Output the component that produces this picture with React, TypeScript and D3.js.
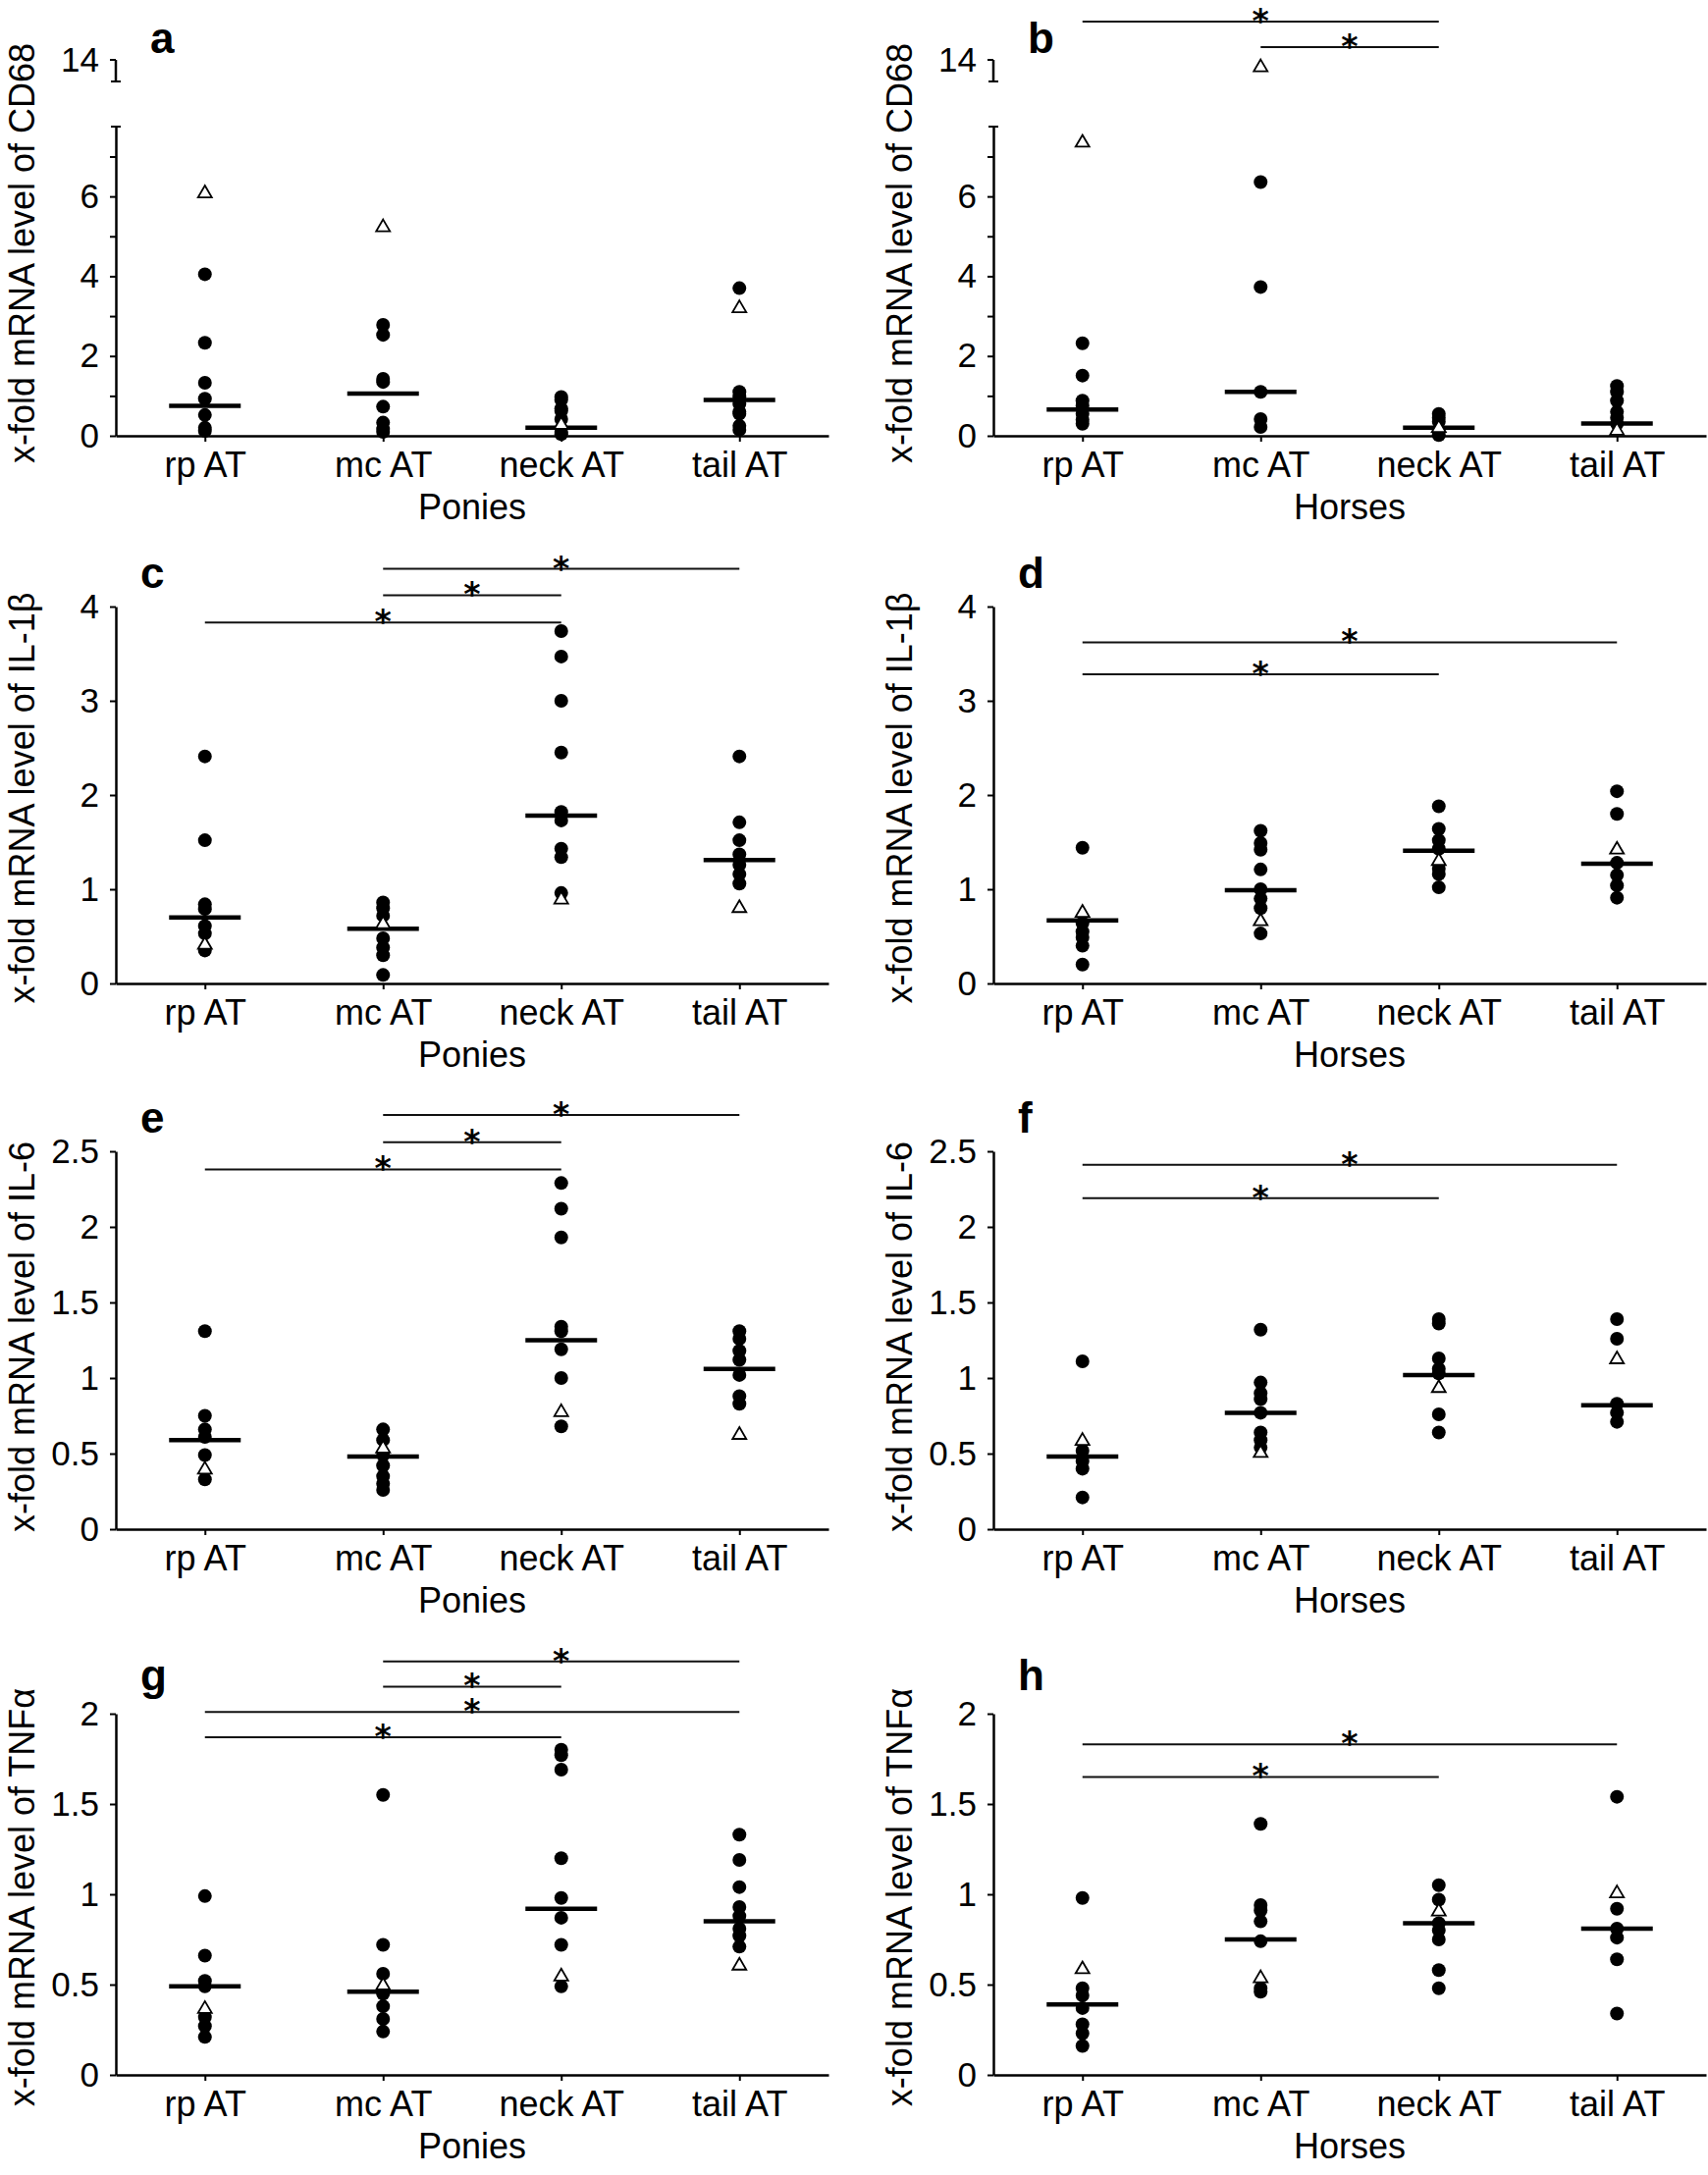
import React, { useEffect, useRef } from "react";
import * as d3 from "d3";

const FONT = "'Liberation Sans', Arial, Helvetica, sans-serif";
const STAR_FONT = "'DejaVu Sans', sans-serif";

const categories = ["rp AT", "mc AT", "neck AT", "tail AT"];

// a — CD68, ponies
const cd68PoniesDots = [
  [4.05, 2.33, 1.33, 0.93, 0.52, 0.2, 0.12],
  [2.78, 2.53, 1.43, 1.35, 0.73, 0.33, 0.17, 0.1],
  [0.97, 0.9, 0.68, 0.62, 0.42, 0.1, 0.04],
  [3.7, 1.1, 0.98, 0.8, 0.6, 0.55, 0.25, 0.15],
];
const cd68PoniesTriangles = [6.1, 5.25, 0.3, 3.22];
const cd68PoniesMedians = [0.75, 1.06, 0.2, 0.9];

// b — CD68, horses
const cd68HorsesDots = [
  [2.32, 1.51, 0.88, 0.75, 0.55, 0.4, 0.3],
  [6.36, 3.73, 1.1, 0.42, 0.22],
  [0.55, 0.45, 0.35, 0.02],
  [1.25, 1.1, 0.88, 0.6, 0.45, 0.3],
];
const cd68HorsesTriangles = [7.37, 13.7, 0.22, 0.15];
const cd68HorsesMedians = [0.66, 1.1, 0.2, 0.31];
const cd68HorsesSig = [
  { from: 0, to: 2, level: 15.77 },
  { from: 1, to: 2, level: 14.59 },
];

// c — IL-1β, ponies
const il1PoniesDots = [
  [2.41, 1.52, 0.84, 0.79, 0.61, 0.53, 0.35],
  [0.86, 0.8, 0.72, 0.48, 0.38, 0.3, 0.09],
  [3.74, 3.47, 3.0, 2.45, 1.82, 1.73, 1.43, 1.34, 0.96],
  [2.41, 1.71, 1.52, 1.37, 1.26, 1.16, 1.06],
];
const il1PoniesTriangles = [0.42, 0.64, 0.9, 0.81];
const il1PoniesMedians = [0.7, 0.58, 1.78, 1.31];
const il1PoniesSig = [
  { from: 0, to: 2, level: 3.83 },
  { from: 1, to: 2, level: 4.12 },
  { from: 1, to: 3, level: 4.4 },
];

// d — IL-1β, horses
const il1HorsesDots = [
  [1.44, 0.64, 0.55, 0.49, 0.4, 0.2],
  [1.62, 1.49, 1.42, 1.21, 1.0, 0.9, 0.8, 0.53],
  [1.88, 1.64, 1.52, 1.43, 1.22, 1.16, 1.02],
  [2.04, 1.8, 1.28, 1.15, 1.04, 0.91],
];
const il1HorsesTriangles = [0.76, 0.67, 1.31, 1.43];
const il1HorsesMedians = [0.67, 0.99, 1.41, 1.27];
const il1HorsesSig = [
  { from: 0, to: 2, level: 3.28 },
  { from: 0, to: 3, level: 3.62 },
];

// e — IL-6, ponies
const il6PoniesDots = [
  [1.31, 0.75, 0.66, 0.61, 0.49, 0.33],
  [0.66, 0.59, 0.49, 0.42, 0.35, 0.3, 0.26],
  [2.29, 2.12, 1.93, 1.34, 1.31, 1.19, 1.0, 0.68],
  [1.31, 1.26, 1.18, 1.12, 1.02, 0.88, 0.83],
];
const il6PoniesTriangles = [0.4, 0.54, 0.78, 0.63];
const il6PoniesMedians = [0.59, 0.48, 1.25, 1.06];
const il6PoniesSig = [
  { from: 0, to: 2, level: 2.38 },
  { from: 1, to: 2, level: 2.56 },
  { from: 1, to: 3, level: 2.74 },
];

// f — IL-6, horses
const il6HorsesDots = [
  [1.11, 0.52, 0.45, 0.4, 0.21],
  [1.32, 0.97, 0.9, 0.86, 0.77, 0.64, 0.59, 0.54],
  [1.39, 1.36, 1.13, 1.06, 1.03, 0.76, 0.64],
  [1.39, 1.26, 0.83, 0.77, 0.71],
];
const il6HorsesTriangles = [0.59, 0.51, 0.94, 1.13];
const il6HorsesMedians = [0.48, 0.77, 1.02, 0.82];
const il6HorsesSig = [
  { from: 0, to: 2, level: 2.19 },
  { from: 0, to: 3, level: 2.41 },
];

// g — TNFα, ponies
const tnfPoniesDots = [
  [0.99, 0.66, 0.52, 0.49, 0.32, 0.27, 0.21],
  [1.55, 0.72, 0.56, 0.45, 0.38, 0.31, 0.24],
  [1.8, 1.77, 1.69, 1.2, 0.98, 0.87, 0.72, 0.49],
  [1.33, 1.19, 1.04, 0.93, 0.88, 0.81, 0.77, 0.71],
];
const tnfPoniesTriangles = [0.37, 0.5, 0.55, 0.61];
const tnfPoniesMedians = [0.49, 0.46, 0.92, 0.85];
const tnfPoniesSig = [
  { from: 0, to: 2, level: 1.87 },
  { from: 0, to: 3, level: 2.01 },
  { from: 1, to: 2, level: 2.15 },
  { from: 1, to: 3, level: 2.29 },
];

// h — TNFα, horses
const tnfHorsesDots = [
  [0.98, 0.48, 0.44, 0.37, 0.28, 0.23, 0.16],
  [1.39, 0.94, 0.91, 0.85, 0.74, 0.48, 0.46],
  [1.05, 0.97, 0.84, 0.8, 0.75, 0.58, 0.48],
  [1.54, 0.92, 0.81, 0.76, 0.64, 0.34],
];
const tnfHorsesTriangles = [0.59, 0.54, 0.91, 1.01];
const tnfHorsesMedians = [0.39, 0.75, 0.84, 0.81];
const tnfHorsesSig = [
  { from: 0, to: 2, level: 1.65 },
  { from: 0, to: 3, level: 1.83 },
];

const yTitles = [
  "x-fold mRNA level of CD68",
  "x-fold mRNA level of IL-1β",
  "x-fold mRNA level of IL-6",
  "x-fold mRNA level of TNFα",
];
const groupTitles = ["Ponies", "Horses"];
const panelLetters = ["a", "b", "c", "d", "e", "f", "g", "h"];

// vertical layout of the four rows (pixels) and their y domains
const rowLayouts = [
  { max: 7.75, y0: 444, yTop: 129, ticks: [0, 1, 2, 3, 4, 5, 6, 7], labelEvery: 2, labelY: 54, titleY: 258, broken: true },
  { max: 4, y0: 1002, yTop: 618, ticks: [0, 1, 2, 3, 4], labelEvery: 1, labelY: 599, titleY: 813, broken: false },
  { max: 2.5, y0: 1558, yTop: 1173, ticks: [0, 0.5, 1, 1.5, 2, 2.5], labelEvery: 0.5, labelY: 1154, titleY: 1362, broken: false },
  { max: 2, y0: 2114, yTop: 1746, ticks: [0, 0.5, 1, 1.5, 2], labelEvery: 0.5, labelY: 1722, titleY: 1933, broken: false },
];

const panels = [
  { dots: cd68PoniesDots, tris: cd68PoniesTriangles, meds: cd68PoniesMedians, sig: [] as any[] },
  { dots: cd68HorsesDots, tris: cd68HorsesTriangles, meds: cd68HorsesMedians, sig: cd68HorsesSig },
  { dots: il1PoniesDots, tris: il1PoniesTriangles, meds: il1PoniesMedians, sig: il1PoniesSig },
  { dots: il1HorsesDots, tris: il1HorsesTriangles, meds: il1HorsesMedians, sig: il1HorsesSig },
  { dots: il6PoniesDots, tris: il6PoniesTriangles, meds: il6PoniesMedians, sig: il6PoniesSig },
  { dots: il6HorsesDots, tris: il6HorsesTriangles, meds: il6HorsesMedians, sig: il6HorsesSig },
  { dots: tnfPoniesDots, tris: tnfPoniesTriangles, meds: tnfPoniesMedians, sig: tnfPoniesSig },
  { dots: tnfHorsesDots, tris: tnfHorsesTriangles, meds: tnfHorsesMedians, sig: tnfHorsesSig },
];

const W = 1740;
const H = 2216;

const App: React.FC = () => {
  const ref = useRef<SVGSVGElement | null>(null);

  useEffect(() => {
    if (!ref.current) return;
    document.body.style.margin = "0";
    const svg = d3.select(ref.current);
    svg.selectAll("*").remove();
    svg.append("rect").attr("width", W).attr("height", H).attr("fill", "#fff");

    panels.forEach((p, i) => {
      const col = i % 2;
      const rowIdx = Math.floor(i / 2);
      const row = rowLayouts[rowIdx];
      const x0 = col === 0 ? 118 : 1012;
      const x1 = x0 + 726;

      const x = d3.scalePoint<string>().domain(categories).range([x0, x1]).padding(0.5);
      const lower = d3.scaleLinear().domain([0, row.max]).range([row.y0, row.yTop]);
      // upper segment above the axis break (row 1 only)
      const upper = d3.scaleLinear().domain([13, 14]).range([83, 61]);
      const y = (v: number) => (row.broken && v > row.max ? upper(v) : lower(v));

      const g = svg.append("g").attr("font-family", FONT);

      // x axis
      const xa = g.append("g")
        .attr("transform", `translate(0,${row.y0})`)
        .call(d3.axisBottom(x).tickSize(6).tickPadding(10).tickSizeOuter(0) as any);
      xa.select(".domain").attr("stroke", "#000").attr("stroke-width", 2.5);
      xa.selectAll(".tick line").attr("stroke", "#000").attr("stroke-width", 2);
      xa.selectAll(".tick text").attr("font-size", 36).attr("font-family", FONT).attr("fill", "#000");

      // y axis
      const ya = g.append("g")
        .attr("transform", `translate(${x0},0)`)
        .call(
          d3.axisLeft(lower)
            .tickValues(row.ticks)
            .tickSize(6)
            .tickPadding(11)
            .tickSizeOuter(0)
            .tickFormat((d: any) => (Math.abs(d / row.labelEvery - Math.round(d / row.labelEvery)) < 1e-6 ? String(d) : "")) as any
        );
      ya.select(".domain").attr("stroke", "#000").attr("stroke-width", 2.5);
      ya.selectAll(".tick line").attr("stroke", "#000").attr("stroke-width", 2);
      ya.selectAll(".tick text").attr("font-size", 35).attr("font-family", FONT).attr("fill", "#000");

      if (row.broken) {
        // cap at top of lower segment
        g.append("line")
          .attr("x1", x0 - 5).attr("x2", x0 + 5)
          .attr("y1", lower(row.max)).attr("y2", lower(row.max))
          .attr("stroke", "#000").attr("stroke-width", 2);
        // upper segment
        g.append("line")
          .attr("x1", x0).attr("x2", x0)
          .attr("y1", upper(14)).attr("y2", upper(13))
          .attr("stroke", "#000").attr("stroke-width", 2.5);
        g.append("line")
          .attr("x1", x0 - 6).attr("x2", x0)
          .attr("y1", upper(14)).attr("y2", upper(14))
          .attr("stroke", "#000").attr("stroke-width", 2);
        g.append("line")
          .attr("x1", x0 - 5).attr("x2", x0 + 5)
          .attr("y1", upper(13)).attr("y2", upper(13))
          .attr("stroke", "#000").attr("stroke-width", 2);
        g.append("text")
          .attr("x", x0 - 17)
          .attr("y", upper(14))
          .attr("dy", "0.35em")
          .attr("text-anchor", "end")
          .attr("font-size", 35)
          .text("14");
      }

      // axis titles
      g.append("text")
        .attr("transform", `translate(${x0 - 83},${row.titleY}) rotate(-90)`)
        .attr("text-anchor", "middle")
        .attr("font-size", 36)
        .text(yTitles[rowIdx]);
      g.append("text")
        .attr("x", (x0 + x1) / 2)
        .attr("y", row.y0 + 85)
        .attr("text-anchor", "middle")
        .attr("font-size", 36)
        .text(groupTitles[col]);

      // panel letter
      g.append("text")
        .attr("x", x0 + (rowIdx === 0 ? 35 : 25))
        .attr("y", row.labelY)
        .attr("font-size", 44)
        .attr("font-weight", "bold")
        .text(panelLetters[i]);

      // significance bars
      p.sig.forEach((s: any) => {
        const xa1 = x(categories[s.from])!;
        const xa2 = x(categories[s.to])!;
        g.append("line")
          .attr("x1", xa1).attr("x2", xa2)
          .attr("y1", y(s.level)).attr("y2", y(s.level))
          .attr("stroke", "#111").attr("stroke-width", 2);
        g.append("text")
          .attr("x", (xa1 + xa2) / 2)
          .attr("y", y(s.level) + 11)
          .attr("text-anchor", "middle")
          .attr("font-family", STAR_FONT)
          .attr("font-weight", "bold")
          .attr("font-size", 33)
          .text("*");
      });

      // dots
      p.dots.forEach((vals, ci) => {
        const cx = x(categories[ci])!;
        vals.forEach(v => {
          g.append("circle").attr("cx", cx).attr("cy", y(v)).attr("r", 7).attr("fill", "#000");
        });
      });

      // medians
      p.meds.forEach((m, ci) => {
        const cx = x(categories[ci])!;
        g.append("line")
          .attr("x1", cx - 36.5).attr("x2", cx + 36.5)
          .attr("y1", y(m)).attr("y2", y(m))
          .attr("stroke", "#000").attr("stroke-width", 4.5);
      });

      // open triangles
      p.tris.forEach((t, ci) => {
        const cx = x(categories[ci])!;
        g.append("path")
          .attr("d", "M0,-7L7,5L-7,5Z")
          .attr("transform", `translate(${cx},${y(t)})`)
          .attr("fill", "#fff")
          .attr("stroke", "#000")
          .attr("stroke-width", 1.8);
      });
    });
  }, []);

  return (
    <svg
      ref={ref}
      width={W}
      height={H}
      style={{ position: "absolute", left: 0, top: 0, display: "block" }}
    />
  );
};

export default App;
